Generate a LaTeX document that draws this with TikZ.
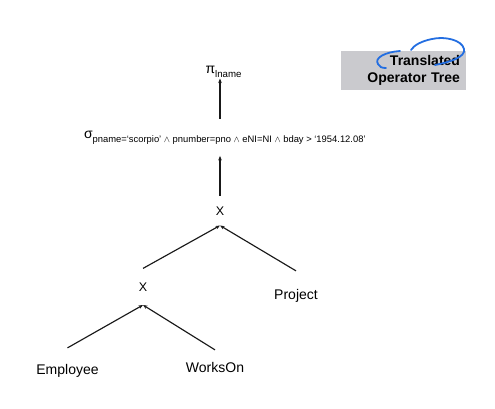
\documentclass[tikz,border=0pt]{standalone}
\usepackage{fontspec}
\setmainfont{Liberation Sans}
\usepackage{tikz}
\usetikzlibrary{arrows.meta, positioning}
\definecolor{boxgray}{RGB}{202, 202, 206}
\definecolor{penblue}{RGB}{35, 110, 225}
\newcommand{\lowsub}[2][9.7]{\raisebox{-4pt}{\fontsize{#1}{11}\selectfont #2}}
\newcommand{\andop}{\ensuremath{\wedge}}

\begin{document}
\begin{tikzpicture}[
    x=1pt, y=-1pt,
    % Global styles
    font=\fontsize{14}{16}\selectfont,
    % Node styles
    cond/.style={
        inner sep=0pt,
        anchor=base west
    },
    op/.style={
        inner sep=0pt,
        anchor=base,
        font=\fontsize{12.5}{14}\selectfont
    },
    leaf/.style={
        inner sep=0pt,
        anchor=base
    },
    title/.style={
        rectangle,
        fill=boxgray,
        minimum width=125pt,
        minimum height=39pt,
        inner xsep=6pt,
        text width=113pt,
        align=right,
        font=\fontsize{14}{16.5}\selectfont\bfseries
    },
    arrow/.style={
        line width=1.15pt,
        -{Stealth[length=4.5pt, width=3.6pt]},
        color=black!90
    },
    pen/.style={
        draw=penblue,
        line width=1.8pt,
        line cap=round
    }
]

\useasboundingbox (0,0) rectangle (495,408);

% --- Nodes ---

% Projection and selection
\node (proj) [cond, outer sep=1.5pt] at (204,73) {π\lowsub{lname}};
\node (sel) [cond, outer sep=12pt] at (72,138) {σ\lowsub[9.4]{pname=`scorpio' \andop{} pnumber=pno \andop{} eNI=NI \andop{} bday > `1954.12.08'}};

% Products
\node (x_top) [op, outer sep=10.5pt] at (220,215) {X};
\node (x_low) [op, outer sep=14pt] at (143,291) {X};

% Relations
\node (employee) [leaf, outer sep=16pt] at (67.5,374) {Employee};
\node (works_on) [leaf, outer sep=12pt] at (215,372) {WorksOn};
\node (project) [leaf, outer sep=18pt] at (296,299) {Project};

% Title box
\node (title) [title] at (403.5,70.5) {Translated\\Operator Tree};

% --- Edges ---
\draw [arrow] (employee.north) -- (x_low.south);
\draw [arrow] (works_on.north) -- (x_low.south);
\draw [arrow] (x_low.north) -- (x_top.south);
\draw [arrow] (project.north) -- (x_top.south);
\draw [arrow] (x_top.north) -- (x_top.north |- sel.south);
\draw [arrow] (sel.north -| x_top) -- (proj.south -| x_top);

% Pen marks round the title
\draw [pen] (400,51) .. controls (385,52) and (374,58) .. (378,64)
    .. controls (379,67) and (382,68) .. (386,68);
\draw [pen] (435,65) .. controls (450,62) and (466,57) .. (464,49)
    .. controls (462,40) and (445,36) .. (432,39)
    .. controls (422,41) and (414,45) .. (411,50);

\end{tikzpicture}
\end{document}
